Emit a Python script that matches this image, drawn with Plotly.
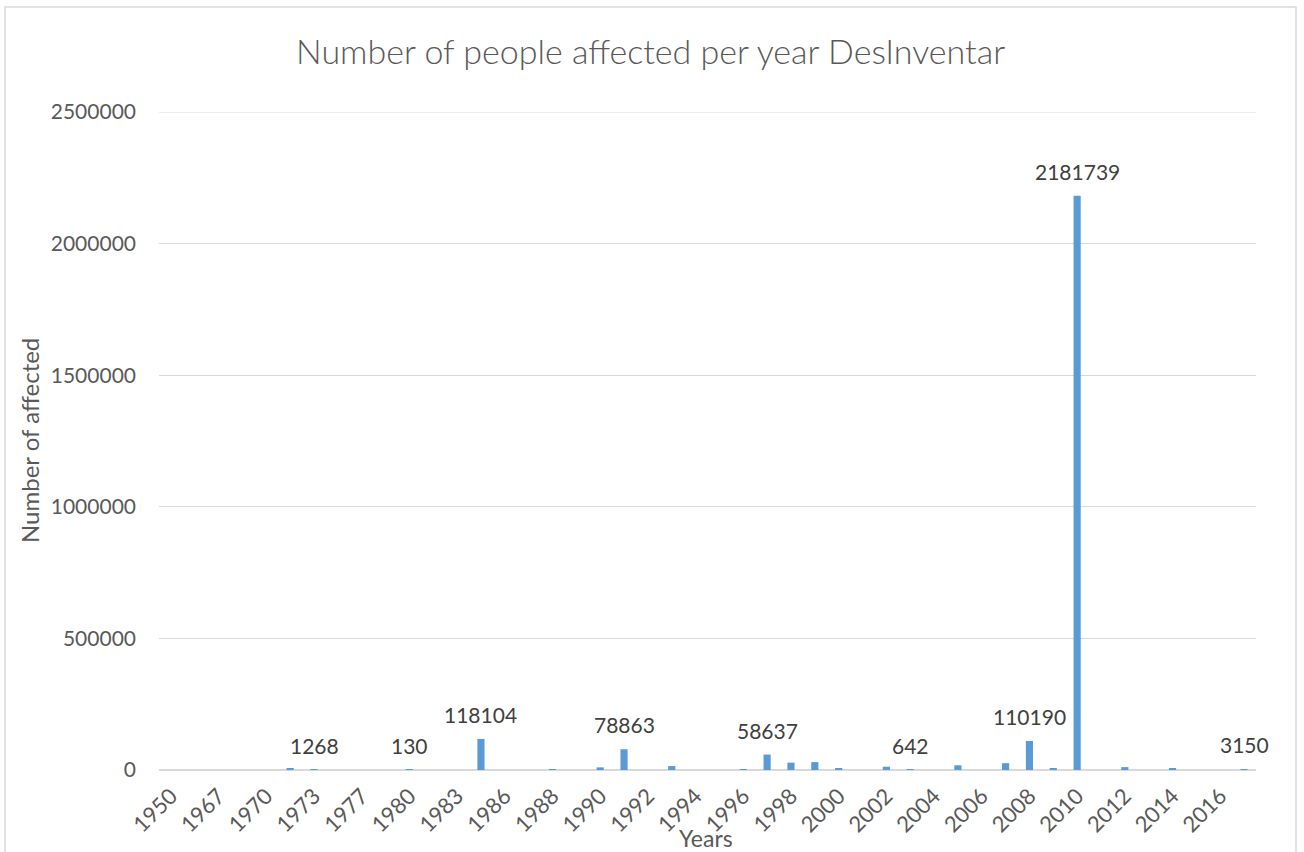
import plotly.graph_objects as go

years = ["1950", "1965", "1967", "1969", "1970", "1972", "1973", "1975", "1977", "1979",
         "1980", "1982", "1983", "1984", "1986", "1987", "1988", "1989", "1990", "1991",
         "1992", "1993", "1994", "1995", "1996", "1997", "1998", "1999", "2000", "2001",
         "2002", "2003", "2004", "2005", "2006", "2007", "2008", "2009", "2010", "2011",
         "2012", "2013", "2014", "2015", "2016", "2017"]
affected = [0, 0, 0, 0, 0, 5000, 1268, 0, 0, 0,
            130, 0, 0, 118104, 0, 0, 2000, 0, 10000, 78863,
            0, 15000, 0, 0, 2000, 58637, 28000, 30000, 5000, 0,
            12500, 642, 0, 18000, 0, 26000, 110190, 6000, 2181739, 0,
            11000, 0, 7500, 0, 0, 3150]
labelled_years = ["1973", "1980", "1984", "1991", "1997", "2003", "2008", "2010", "2017"]
tick_years = years[::2]
y_ticks = [0, 500000, 1000000, 1500000, 2000000, 2500000]

FONT = "Lato"
GREY = "#595959"

pos = list(range(len(years)))
fig = go.Figure()
fig.add_trace(go.Bar(x=pos, y=affected, marker_color="#5B9BD5", marker_line_width=0,
                     customdata=years, hovertemplate="%{customdata}: %{y}<extra></extra>"))

for yr in labelled_years:
    i = years.index(yr)
    fig.add_annotation(x=i, y=affected[i], text=str(affected[i]), showarrow=False,
                       yanchor="bottom", yshift=10,
                       font=dict(family=FONT, size=21, color="#404040"))

L, R, T, B = 159, 48, 112, 82
W, H = 1304, 852
pw, ph = W - L - R, H - T - B

def px_x(px):
    return (px - L) / pw

def px_y(py):
    return (H - B - py) / ph

fig.add_shape(type="rect", xref="paper", yref="paper",
              x0=px_x(5), x1=px_x(1296), y0=px_y(870), y1=px_y(7),
              line=dict(color="#D9D9D9", width=1.5), fillcolor="rgba(0,0,0,0)", layer="below")
# top gridline (at the edge of the value range)
fig.add_shape(type="line", xref="paper", yref="y", x0=0, x1=1,
              y0=y_ticks[-1], y1=y_ticks[-1], line=dict(color="#D9D9D9", width=1), layer="below")

fig.add_annotation(xref="paper", yref="paper", x=px_x(650), y=px_y(50),
                   text="Number of people affected per year DesInventar", showarrow=False,
                   xanchor="center", yanchor="middle",
                   font=dict(family=FONT, size=34, color=GREY, weight=300))
fig.add_annotation(xref="paper", yref="paper", x=px_x(706), y=px_y(838),
                   text="Years", showarrow=False, xanchor="center", yanchor="middle",
                   font=dict(family=FONT, size=23, color=GREY))
fig.add_annotation(xref="paper", yref="paper", x=px_x(29), y=px_y(441),
                   text="Number of affected", showarrow=False, textangle=-90,
                   xanchor="center", yanchor="middle",
                   font=dict(family=FONT, size=24, color=GREY))

fig.update_layout(
    width=W, height=H,
    margin=dict(l=L, r=R, t=T, b=B, autoexpand=False),
    paper_bgcolor="white", plot_bgcolor="white",
    bargap=0.7, showlegend=False,
    font=dict(family=FONT, color=GREY),
    xaxis=dict(range=[-0.5, len(years) - 0.5],
               tickmode="array", tickvals=[years.index(t) for t in tick_years], ticktext=tick_years,
               tickangle=-45, tickfont=dict(family=FONT, size=22, color=GREY),
               showgrid=False, showline=False, zeroline=False, ticks="", ticklabelstandoff=8),
    yaxis=dict(range=[0, 2500000], tickmode="array", tickvals=y_ticks,
               ticktext=[str(v) for v in y_ticks],
               tickfont=dict(family=FONT, size=21, color=GREY),
               showgrid=True, gridcolor="#D9D9D9", gridwidth=1,
               zeroline=True, zerolinecolor="#D9D9D9", zerolinewidth=1.5,
               showline=False, ticks="", ticklabelstandoff=22),
)

fig.write_html("out.html")
